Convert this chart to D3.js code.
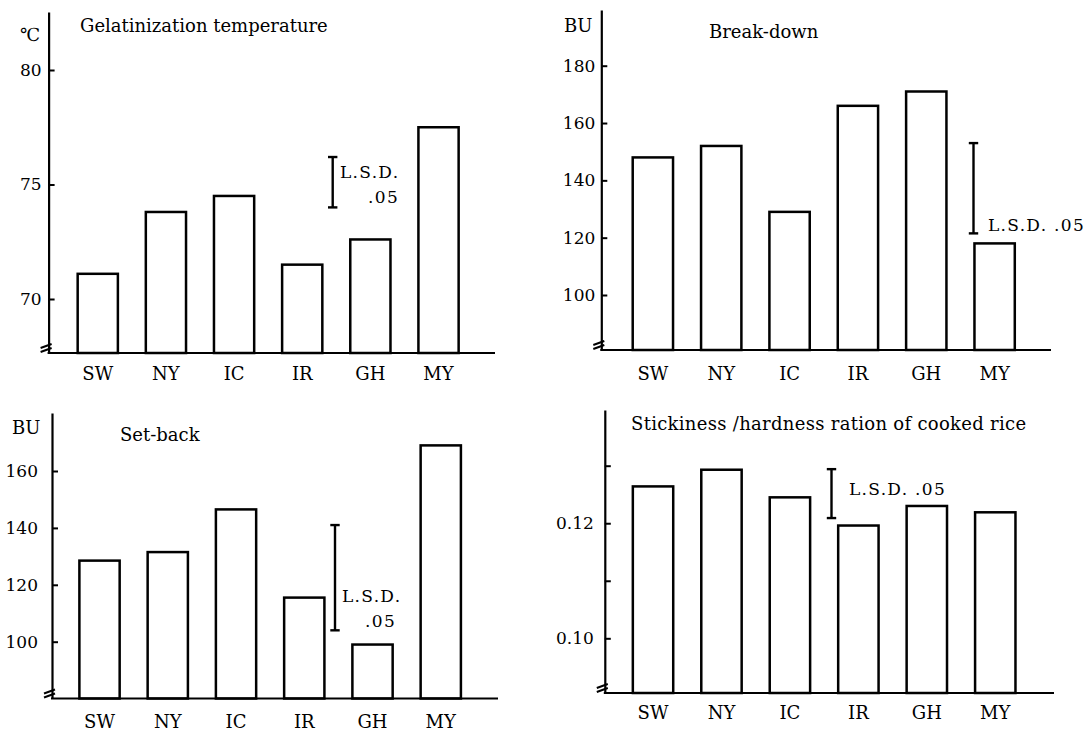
<!DOCTYPE html>
<html>
<head>
<meta charset="utf-8">
<script src="https://cdn.jsdelivr.net/npm/d3@7"></script>
<style>
  body { margin: 0; background: #fff; }
  svg { display: block; font-family: "DejaVu Serif", serif; }
</style>
</head>
<body>
<div id="chart"></div>
<script>
// data
const varieties = ['SW', 'NY', 'IC', 'IR', 'GH', 'MY'];

const gelatinization = [71.1, 73.8, 74.5, 71.5, 72.6, 77.5];
const breakDown = [148, 152, 129, 166, 171, 118];
const setBack = [128.5, 131.5, 146.5, 115.5, 99, 169];
const stickiness = [0.1264, 0.1293, 0.1245, 0.1196, 0.1230, 0.1219];

// L.S.D. bars, [low, high] in axis units
const lsdGel = [74.0, 76.2];
const lsdBreak = [121.5, 153];
const lsdSet = [104, 141];
const lsdStick = [0.1209, 0.1294];

const gelTicks = [70, 75, 80];
const breakTicks = [100, 120, 140, 160, 180];
const setTicks = [100, 120, 140, 160];
const stickTicks = [0.10, 0.11, 0.12, 0.13];
const stickTickLabels = [0.10, 0.12];

const titles = ['Gelatinization temperature', 'Break-down', 'Set-back',
    'Stickiness /hardness ration of cooked rice'];
const units = ['℃', 'BU', 'BU', ''];
const lsdLabels = [['L.S.D.', '.05'], ['L.S.D. .05'], ['L.S.D.', '.05'], ['L.S.D. .05']];

// page layout for each of the four small charts
const layouts = [
    {axisX: 48.6, top: 12, base: 353, right: 495, band: [63.7, 472.6],
        anchor: [70, 80], anchorPx: [299, 70], pad: 7, lsdX: 332.7,
        title: [80, 32], titleSpacing: 0, unit: [20, 41], labelY: 380,
        lsdPos: [[340, 178, 'start'], [399, 203, 'end']]},
    {axisX: 601.3, top: 10, base: 350, right: 1051, band: [618.7, 1028.8],
        anchor: [100, 180], anchorPx: [295, 65.7], pad: 6, lsdX: 973.5,
        title: [709, 38], titleSpacing: 0, unit: [564, 32], labelY: 380,
        lsdPos: [[988, 231, 'start']]},
    {axisX: 52, top: 413, base: 698.5, right: 498, band: [65.4, 474.9],
        anchor: [100, 160], anchorPx: [641.7, 471], pad: 14, lsdX: 335,
        title: [120, 440.7], titleSpacing: 0, unit: [12, 434], labelY: 728,
        lsdPos: [[342, 601.7, 'start'], [396, 627, 'end']]},
    {axisX: 604.8, top: 410, base: 693, right: 1054, band: [618.8, 1029.5],
        anchor: [0.10, 0.13], anchorPx: [638.3, 465.7], pad: 11, lsdX: 831.5,
        title: [631, 430], titleSpacing: 0.3, unit: [0, 0], labelY: 719,
        lsdPos: [[849, 495, 'start']]}
];

const panels = [
    {values: gelatinization, lsd: lsdGel, ticks: gelTicks, format: d3.format('d')},
    {values: breakDown, lsd: lsdBreak, ticks: breakTicks, format: d3.format('d')},
    {values: setBack, lsd: lsdSet, ticks: setTicks, format: d3.format('d')},
    {values: stickiness, lsd: lsdStick, ticks: stickTicks,
        format: function(d) { return stickTickLabels.includes(d) ? d3.format('.2f')(d) : ''; }}
];

const svg = d3.select("#chart")
    .append("svg")
    .attr("width", 1088)
    .attr("height", 732);

panels.forEach(function(p, i) {
    const L = layouts[i];
    const g = svg.append("g");

    // x scale: one band per variety
    const x = d3.scaleBand()
        .domain(varieties)
        .range(L.band)
        .paddingInner(0.41)
        .paddingOuter(0.205);

    // y scale fixed by two ticks, then stretched to the axis ends (broken axis)
    const y = d3.scaleLinear().domain(L.anchor).range(L.anchorPx);
    y.domain([y.invert(L.base), y.invert(L.top)]).range([L.base, L.top]);

    // bars
    g.selectAll("rect")
        .data(p.values)
        .join("rect")
        .attr("x", function(d, j) { return x(varieties[j]); })
        .attr("y", function(d) { return y(d); })
        .attr("width", x.bandwidth())
        .attr("height", function(d) { return L.base - y(d); })
        .attr("fill", "#fff")
        .attr("stroke", "#000")
        .attr("stroke-width", 2.5);

    // y axis, ticks pointing inward
    const yAxis = g.append("g")
        .attr("transform", `translate(${L.axisX}, 0)`)
        .call(d3.axisLeft(y)
            .tickValues(p.ticks)
            .tickSizeInner(-6)
            .tickSizeOuter(0)
            .tickPadding(L.pad)
            .tickFormat(p.format));
    yAxis.select(".domain").attr("stroke-width", 2.2);
    yAxis.selectAll(".tick line").attr("stroke-width", 2);
    yAxis.selectAll(".tick text")
        .attr("font-family", "DejaVu Serif")
        .attr("font-size", 17)
        .attr("fill", "#000");

    // baseline
    g.append("line")
        .attr("x1", L.axisX - 1)
        .attr("x2", L.right)
        .attr("y1", L.base)
        .attr("y2", L.base)
        .attr("stroke", "#000")
        .attr("stroke-width", 2.2);

    // break mark on the y axis
    [5, 1].forEach(function(k) {
        g.append("line")
            .attr("x1", L.axisX - 8)
            .attr("y1", L.base - k)
            .attr("x2", L.axisX + 3)
            .attr("y2", L.base - k - 4)
            .attr("stroke", "#000")
            .attr("stroke-width", 2);
    });

    // x labels
    const xAxis = g.append("g")
        .attr("transform", `translate(0, ${L.base})`)
        .call(d3.axisBottom(x).tickSize(0));
    xAxis.select(".domain").remove();
    xAxis.selectAll(".tick text")
        .attr("y", L.labelY - L.base)
        .attr("dy", 0)
        .attr("font-family", "DejaVu Serif")
        .attr("font-size", 18)
        .attr("fill", "#000");

    // L.S.D. bar
    const lsd = g.append("g")
        .attr("stroke", "#000")
        .attr("stroke-width", 2.4);
    lsd.append("line")
        .attr("x1", L.lsdX).attr("x2", L.lsdX)
        .attr("y1", y(p.lsd[0])).attr("y2", y(p.lsd[1]));
    p.lsd.forEach(function(v) {
        lsd.append("line")
            .attr("x1", L.lsdX - 4.7).attr("x2", L.lsdX + 4.7)
            .attr("y1", y(v)).attr("y2", y(v));
    });
    lsdLabels[i].forEach(function(t, j) {
        g.append("text")
            .attr("x", L.lsdPos[j][0])
            .attr("y", L.lsdPos[j][1])
            .attr("text-anchor", L.lsdPos[j][2])
            .attr("font-size", 17)
            .attr("letter-spacing", 1.3)
            .text(t);
    });

    // title and unit
    g.append("text")
        .attr("x", L.title[0])
        .attr("y", L.title[1])
        .attr("font-size", 18)
        .attr("letter-spacing", L.titleSpacing)
        .text(titles[i]);
    if (units[i]) {
        g.append("text")
            .attr("x", L.unit[0])
            .attr("y", L.unit[1])
            .attr("font-size", 18)
            .text(units[i]);
    }
});
</script>
</body>
</html>
